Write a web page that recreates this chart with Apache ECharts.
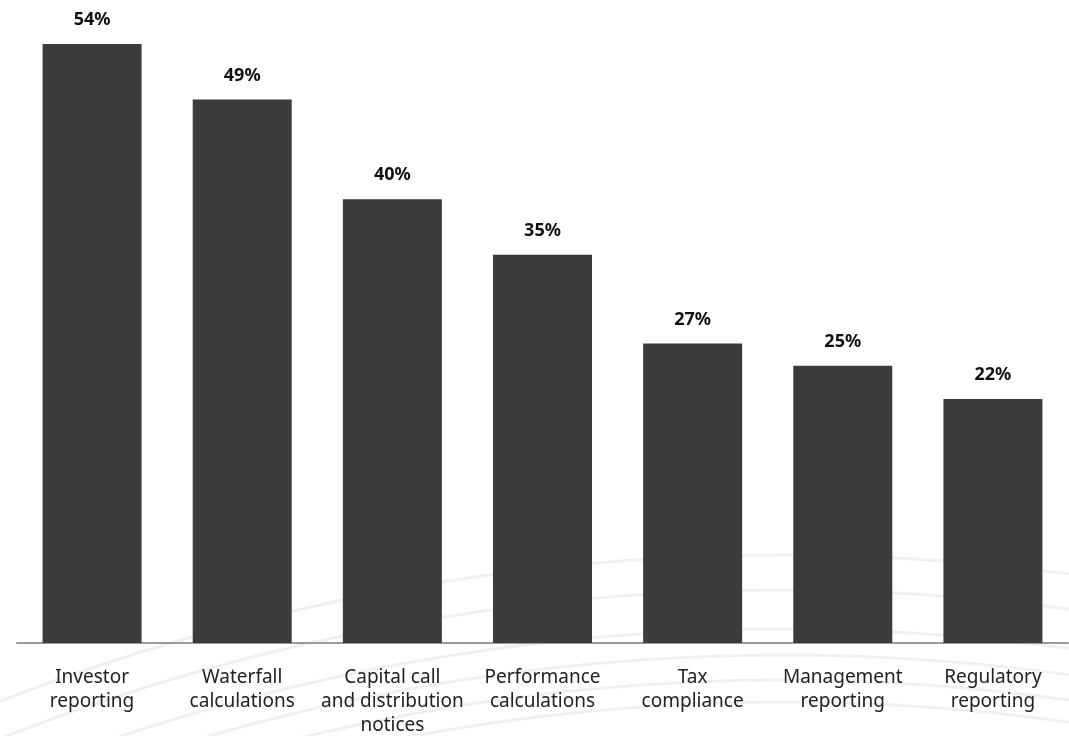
<!DOCTYPE html>
<html>
<head>
<meta charset="utf-8">
<script src="https://cdn.jsdelivr.net/npm/echarts@6/dist/echarts.min.js"></script>
<style>
html,body{margin:0;padding:0;background:#fff;}
#chart{width:1069px;height:736px;}
</style>
</head>
<body>
<div id="chart"></div>
<script>
const categories = [
  'Investor\nreporting',
  'Waterfall\ncalculations',
  'Capital call\nand distribution\nnotices',
  'Performance\ncalculations',
  'Tax\ncompliance',
  'Management\nreporting',
  'Regulatory\nreporting'
];
const values = [54, 49, 40, 35, 27, 25, 22];

const chart = echarts.init(document.getElementById('chart'));
const arcStyle = {fill: 'none', stroke: '#f0f0f0', lineWidth: 3};
const arcs = [
  {cx: 783, cy: 2727, r: 2172},
  {cx: 783, cy: 2727, r: 2098},
  {cx: 783, cy: 2727, r: 2072},
  {cx: 783, cy: 2727, r: 2047},
  {cx: 783, cy: 2727, r: 2025},
  {cx: 783, cy: 2727, r: 2137}
].map(s => ({type: 'circle', z: -10, silent: true, shape: s, style: arcStyle}));

chart.setOption({
  animation: false,
  backgroundColor: '#ffffff',
  graphic: arcs,
  grid: {left: 17, right: 1, top: 44, bottom: 93, containLabel: false, outerBoundsMode: 'none'},
  xAxis: {
    type: 'category',
    data: categories,
    axisLine: {show: true, lineStyle: {color: '#9a9a9a', width: 2}},
    axisTick: {show: false},
    axisLabel: {
      interval: 0,
      margin: 23,
      color: '#222222',
      fontFamily: 'Noto Sans',
      fontSize: 19,
      lineHeight: 24
    }
  },
  yAxis: {
    type: 'value',
    min: 0,
    max: 54,
    show: false,
    splitLine: {show: false}
  },
  series: [{
    type: 'bar',
    data: values,
    barWidth: 99,
    itemStyle: {color: '#3c3c3b'},
    label: {
      show: true,
      position: 'top',
      distance: 15,
      formatter: '{c}%',
      color: '#111111',
      fontFamily: 'Noto Sans',
      fontWeight: 'bold',
      fontSize: 18
    }
  }]
});
</script>
</body>
</html>
